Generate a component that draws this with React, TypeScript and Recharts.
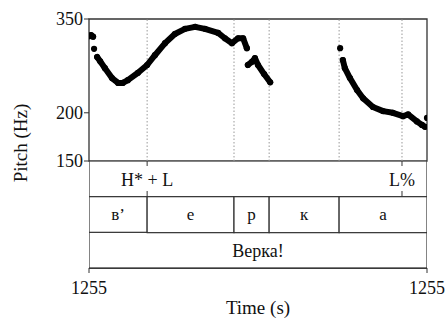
import {
  Bar,
  BarChart,
  ComposedChart,
  ReferenceArea,
  ReferenceLine,
  Scatter,
  XAxis,
  YAxis,
} from "recharts";

const FONT = '"Liberation Serif", "Times New Roman", serif';
const INK = "#111";
const FRAME = "#333";

// pitch track, [normalised time, Hz], one array per voiced stretch
const ONSET_BLOB: [number, number][] = [[0, 316], [0.006, 318], [0.012, 315]];
const ONSET_DOT: [number, number][] = [[0.015, 293]];
const VE_TRACK: [number, number][] = [
  [0.024, 279], [0.033, 272], [0.047, 261], [0.068, 246], [0.086, 239], [0.1, 239],
  [0.115, 243], [0.145, 254], [0.172, 266], [0.195, 282], [0.225, 303], [0.254, 320],
  [0.284, 330], [0.314, 334], [0.343, 330], [0.382, 322], [0.402, 312], [0.423, 303],
  [0.441, 312], [0.456, 312], [0.467, 294],
];
const R_TRACK: [number, number][] = [
  [0.47, 266], [0.482, 271], [0.491, 277], [0.5, 266], [0.518, 252], [0.536, 240],
];
const A_DOT: [number, number][] = [[0.743, 294]];
const A_TRACK: [number, number][] = [
  [0.751, 274], [0.757, 261], [0.772, 246], [0.793, 229], [0.811, 218], [0.84, 207],
  [0.87, 202], [0.899, 200], [0.929, 196], [0.944, 198], [0.97, 190], [0.985, 186],
  [0.994, 184],
];
const FINAL_DOT: [number, number][] = [[1, 194]];

const PITCH_TICKS = [150, 200, 350];
const TIME_TICK_LABELS = ["1255", "1255"];

// annotation tiers
const SEG_BOUNDS = [0, 0.172, 0.429, 0.533, 0.74, 1];
const SEG_LABELS = ["в’", "е", "р", "к", "а"];
const WORD_LABEL = "Верка!";
const TONE_TIMES = [0.172, 0.926];
const TONE_LABELS = ["H* + L", "L%"];

const GUIDE_LINES = [...SEG_BOUNDS.slice(1, -1), TONE_TIMES[1]];

const toPoints = (arr: [number, number][]) => arr.map(([t, hz]) => ({ t, hz }));
const STRETCHES = [ONSET_BLOB, ONSET_DOT, VE_TRACK, R_TRACK, A_DOT, A_TRACK, FINAL_DOT];

const SEG_KEYS = SEG_LABELS.map((_, i) => `d${i}`);
const segRow: Record<string, number | string> = { tier: "seg" };
SEG_KEYS.forEach((k, i) => {
  segRow[k] = SEG_BOUNDS[i + 1] - SEG_BOUNDS[i];
});
const TIER_ROWS = [{ tier: "tone", d0: 1 }, segRow, { tier: "word", d0: 1 }];

const Dot = (props: any) =>
  props.cx == null ? null : <circle cx={props.cx} cy={props.cy} r={3.1} fill="#000" />;

const PitchTitle = (props: any) => (
  <text
    x={27}
    y={143}
    transform="rotate(-90 27 143)"
    textAnchor="middle"
    fontFamily={FONT}
    fontSize={19}
    fill={INK}
  >
    {props.value}
  </text>
);

const TimeTitle = (props: any) => (
  <text x={258} y={153} textAnchor="middle" fontFamily={FONT} fontSize={19} fill={INK}>
    {props.value}
  </text>
);

const textStyle = { fontFamily: FONT, fill: INK };

function makeTierShape(keyIndex: number) {
  return (props: any) => {
    const { x, y, width, height, index } = props;
    if (!(width > 0) || !(height > 0)) return null;
    const cy = y + height / 2;
    let inner: any = null;
    if (index === 0) {
      inner = TONE_TIMES.map((t, i) => {
        const tx = x + t * width;
        return (
          <g key={i}>
            <line x1={tx} x2={tx} y1={y} y2={y + 5} stroke={FRAME} strokeWidth={1} />
            <line x1={tx} x2={tx} y1={y + height - 6} y2={y + height} stroke={FRAME} strokeWidth={1} />
            <text x={tx} y={cy + 7} textAnchor="middle" fontSize={18} {...textStyle}>
              {TONE_LABELS[i]}
            </text>
          </g>
        );
      });
    } else if (index === 1) {
      inner = (
        <text x={x + width / 2} y={cy + 5} textAnchor="middle" fontSize={17} {...textStyle}>
          {SEG_LABELS[keyIndex]}
        </text>
      );
    } else if (index === 2) {
      inner = (
        <text x={x + width / 2} y={cy + 6.5} textAnchor="middle" fontSize={18} {...textStyle}>
          {WORD_LABEL}
        </text>
      );
    }
    return (
      <g>
        <rect x={x} y={y} width={width} height={height} fill="#fff" stroke={FRAME} strokeWidth={1.2} />
        {inner}
      </g>
    );
  };
}

export default function App() {
  return (
    <div style={{ position: "absolute", left: 0, top: 0, width: 447, height: 320, background: "#fff" }}>
      <ComposedChart
        width={447}
        height={320}
        margin={{ top: 19, right: 20, bottom: 159, left: 29 }}
        style={{ position: "absolute", left: 0, top: 0 }}
      >
        <XAxis type="number" dataKey="t" domain={[0, 1]} hide allowDataOverflow />
        <YAxis
          type="number"
          dataKey="hz"
          scale="log"
          domain={[150, 350]}
          ticks={PITCH_TICKS}
          width={60}
          tickSize={5}
          tickMargin={1}
          axisLine={false}
          tickLine={{ stroke: FRAME }}
          tick={{ fill: INK, fontSize: 18, fontFamily: FONT }}
          allowDataOverflow
          label={{ value: "Pitch (Hz)", content: PitchTitle }}
        />
        <ReferenceArea x1={0} x2={1} y1={150} y2={350} fill="none" stroke={FRAME} strokeWidth={1.3} fillOpacity={0} />
        {GUIDE_LINES.map((b) => (
          <ReferenceLine key={b} x={b} stroke="#999" strokeWidth={1} strokeDasharray="1.5 2" />
        ))}
        {STRETCHES.map((s, i) => (
          <Scatter
            key={i}
            data={toPoints(s)}
            line={s.length > 1 ? { stroke: "#000", strokeWidth: 6, strokeLinecap: "round", strokeLinejoin: "round" } : false}
            shape={Dot}
            isAnimationActive={false}
          />
        ))}
      </ComposedChart>

      <BarChart
        layout="vertical"
        width={447}
        height={159}
        data={TIER_ROWS}
        margin={{ top: 0, right: 20, bottom: 0, left: 89 }}
        barCategoryGap={0}
        barGap={0}
        style={{ position: "absolute", left: 0, top: 161 }}
      >
        <XAxis
          type="number"
          domain={[0, 1]}
          ticks={[0, 1]}
          tickFormatter={(_v: number, i: number) => TIME_TICK_LABELS[i]}
          height={52}
          tickSize={5}
          tickMargin={8}
          stroke={FRAME}
          tick={{ fill: INK, fontSize: 18, fontFamily: FONT }}
          allowDataOverflow
          label={{ value: "Time (s)", content: TimeTitle }}
        />
        <YAxis type="category" dataKey="tier" hide />
        {SEG_KEYS.map((k, i) => (
          <Bar key={k} dataKey={k} stackId="tiers" shape={makeTierShape(i)} isAnimationActive={false} />
        ))}
      </BarChart>
    </div>
  );
}
